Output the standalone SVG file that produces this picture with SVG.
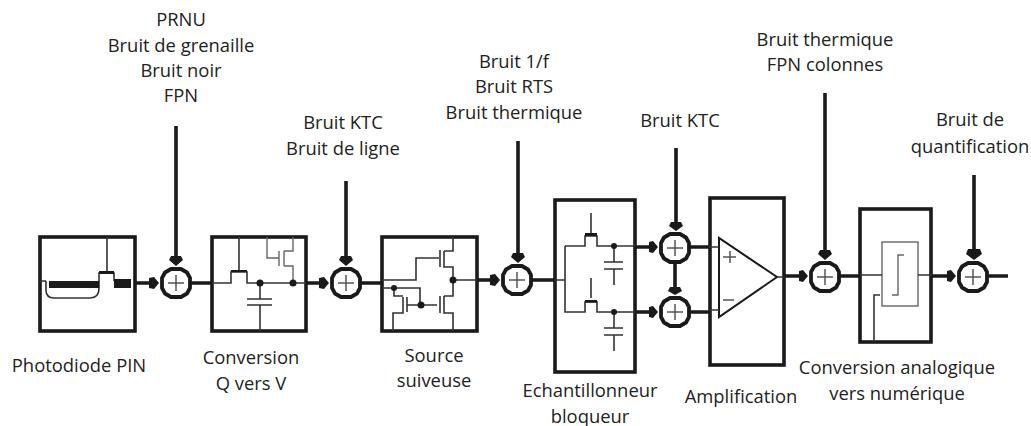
<svg xmlns="http://www.w3.org/2000/svg" width="1031" height="426" viewBox="0 0 1031 426">
<style>
text{font-family:"Open Sans","Noto Sans",sans-serif;font-size:18.4px;fill:#222;text-anchor:middle}
.box{fill:none;stroke:#1a1a1a;stroke-width:3.6}
.thin{fill:none;stroke:#333;stroke-width:1.6}
.grey{fill:none;stroke:#666;stroke-width:1.4}
.wire{fill:none;stroke:#1a1a1a;stroke-width:3.6}
.ring{fill:#fff;stroke:#1a1a1a;stroke-width:3.8;stroke-linejoin:round}
.plus{fill:none;stroke:#555;stroke-width:1.5}
.dot{fill:#1a1a1a}
.arrow{fill:#1a1a1a}
</style>
<defs>
<g id="sum"><polygon class="ring" points="-5,-14 5,-14 11,-10.5 14,-5 14,5 11,10.5 5,14 -5,14 -11,10.5 -14,5 -14,-5 -11,-10.5"/><path class="plus" d="M-8,0H8M0,-8V8"/></g>
</defs>
<rect width="1031" height="426" fill="#fff"/>
<g id="connectors">
<path class="wire" d="M176,126V258M346,181V258M518,141V255M676,148V224M825,93V252M974,175V252"/>
<path class="wire" d="M135,283H152M306,283H322M477,280H494M191,283H212M361,283H382M532,280H554M636,247H652M636,312H652M690,247H709M690,312H709M785,276H802M840,276H860M932,276H950M988,276H1008M675,262V290"/>
<path class="arrow" d="M171,256H181L183,260L176,266L169,260ZM341,256H351L353,260L346,266L339,260ZM513,253H523L525,257L518,263L511,257ZM671,222H681L683,226L676,231L669,226ZM670,287H680L682,291L675,295L668,291ZM820,250H830L832,254L825,260L818,254ZM968,249H980L982,254L974,260L966,254Z"/>
<path class="arrow" d="M149,278L154,277L159,283L154,289L149,288ZM319,278L324,277L329,283L324,289L319,288ZM490,275L495,274L500,280L495,286L490,285ZM649,242L653,241L658,247L653,253L649,252ZM649,307L653,306L658,312L653,318L649,317ZM799,271L803,270L808,276L803,282L799,281ZM947,271L951,270L956,276L951,282L947,281Z"/>
</g>
<g id="node-photodiode">
<rect class="box" x="40" y="237" width="95" height="94"/>
<path class="thin" d="M107,237V272M40,281H46M46,281V290Q46,298 54,298H90Q99,298 99,288V281M99,281V273H114V281"/>
<rect class="dot" x="49" y="281" width="50" height="7"/><rect class="dot" x="114" y="279" width="17" height="9"/><rect x="99" y="271" width="15" height="3" class="dot"/>
</g>
<g id="node-conversion">
<rect class="box" x="212" y="237" width="94" height="94"/>
<path class="thin" d="M239,237V270M212,283H231V272H247V283H306M260,283V299M247,299H272M247,305H272M260,305V331"/>
<rect class="dot" x="231" y="270" width="16" height="2"/>
<path class="grey" d="M267,237V258H279M279,251V266M284,251V266M284,251H293V237M284,266H293V283"/>
<circle class="dot" cx="260" cy="283" r="3.5"/><circle class="dot" cx="293" cy="283" r="3.5"/>
</g>
<g id="node-source">
<rect class="box" x="382" y="237" width="95" height="94"/>
<path class="thin" d="M382,280H416V258H439M440,250V267M444,251H453V237M444,251V267H453V296H444M444,296V313H453V331M440,296V313M437,305H407M407,297V312M403,297V313H393V331M382,288H420V305M394,288V296H403M453,280H477"/>
<circle class="dot" cx="394" cy="288" r="3"/><circle class="dot" cx="421" cy="305" r="3.5"/><circle class="dot" cx="453" cy="280" r="3.5"/>
</g>
<g id="node-sampler">
<rect class="box" x="555" y="200" width="80" height="172"/>
<path class="thin" d="M554,280H565M565,246V312H585V302H597V312H635M565,246H585V236H597V246H635M591,213V234M591,298V278M614,246V262M604,262H623M604,269H623M614,269V285M614,312V328M604,328H623M604,335H623M614,335V351"/>
<rect class="dot" x="585" y="233" width="12" height="3"/><rect class="dot" x="585" y="300" width="12" height="2.5"/>
<circle class="dot" cx="614" cy="246" r="3"/><circle class="dot" cx="614" cy="312" r="3"/>
</g>
<g id="node-amplifier">
<rect class="box" x="710" y="198" width="74" height="167"/>
<path d="M719,238V317L777,277Z" fill="#fff" stroke="#1a1a1a" stroke-width="2"/>
<path class="plus" d="M723,257H736M730,251V263M723,300H734"/>
<path class="thin" d="M709,247H719M709,310H719M777,277H785"/>
</g>
<g id="node-adc">
<rect class="box" x="860" y="209" width="71" height="133"/>
<rect class="grey" x="882" y="242" width="36" height="64" stroke-width="1.6"/>
<path class="grey" d="M904,255H898V295H892"/>
<path class="thin" d="M860,275H882M918,275H932M874,342V295H880"/>
</g>
<g id="sums">
<use href="#sum" x="176" y="283"/><use href="#sum" x="346" y="283"/><use href="#sum" x="517" y="280"/>
<use href="#sum" x="675" y="248"/><use href="#sum" x="675" y="312"/><use href="#sum" x="825" y="277"/><use href="#sum" x="973" y="277"/>
</g>
<g id="labels">
<text x="181" y="26">PRNU</text><text x="181" y="52">Bruit de grenaille</text><text x="181" y="77">Bruit noir</text><text x="181" y="102">FPN</text>
<text x="343" y="129">Bruit KTC</text><text x="343" y="155">Bruit de ligne</text>
<text x="514" y="68">Bruit 1/f</text><text x="514" y="93">Bruit RTS</text><text x="514" y="119">Bruit thermique</text>
<text x="680" y="127">Bruit KTC</text>
<text x="825" y="46">Bruit thermique</text><text x="825" y="71">FPN colonnes</text>
<text x="970" y="126">Bruit de</text><text x="970" y="153">quantification</text>
<text x="79" y="372">Photodiode PIN</text>
<text x="251" y="364">Conversion</text><text x="251" y="390">Q vers V</text>
<text x="434" y="362">Source</text><text x="434" y="387">suiveuse</text>
<text x="590" y="397">Echantillonneur</text><text x="590" y="423">bloqueur</text>
<text x="741" y="403">Amplification</text>
<text x="897" y="374">Conversion analogique</text><text x="897" y="400">vers numérique</text>
</g>
</svg>
